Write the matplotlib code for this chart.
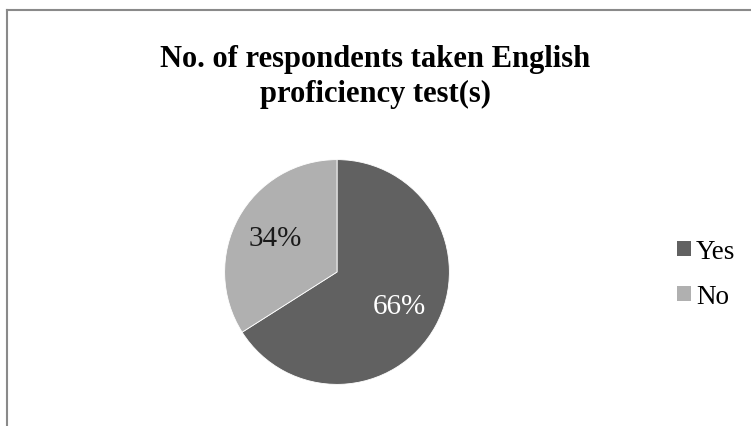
import matplotlib.pyplot as plt
from matplotlib.lines import Line2D
from matplotlib.patches import Patch

labels = ["Yes", "No"]
shares = [66, 34]
colors = ["#616161", "#b0b0b0"]
title = "No. of respondents taken English\nproficiency test(s)"

W, H = 751, 427
fig = plt.figure(figsize=(W / 100, H / 100), dpi=100)
fig.patch.set_facecolor("white")

# outer chart frame (only left and top edges visible)
fig.add_artist(Line2D([7 / W, 7 / W], [1 - 11 / H, 0], color="#8a8a8a", lw=1.5))
fig.add_artist(Line2D([7 / W, 1], [1 - 11 / H, 1 - 11 / H], color="#8a8a8a", lw=1.5))

cx, cy, r = 337, 273, 113.5
ax = fig.add_axes([(cx - r) / W, (H - cy - r) / H, 2 * r / W, 2 * r / H])
wedges, texts, autotexts = ax.pie(shares, colors=colors, startangle=90, counterclock=False,
                                  autopct="%d%%", pctdistance=0.63, radius=1,
                                  wedgeprops=dict(linewidth=0.6, edgecolor="white"),
                                  textprops=dict(family="Liberation Serif", fontsize=21))
autotexts[0].set_color("white")
autotexts[1].set_color("#1a1a1a")
ax.set_xlim(-1.01, 1.01)
ax.set_ylim(-1.01, 1.01)
ax.axis("off")

fig.text(375 / W, 1 - 77 / H, title, ha="center", va="center", family="Liberation Serif",
         fontsize=22, fontweight="bold", linespacing=1.25)

handles = [Patch(facecolor=c, edgecolor="none") for c in colors]
fig.legend(handles, labels, loc="center left", bbox_to_anchor=(677 / W, 1 - 275 / H),
           frameon=False, borderpad=0, borderaxespad=0,
           prop=dict(family="Liberation Serif", size=19.5),
           handlelength=0.5, handleheight=0.5, handletextpad=0.2, labelspacing=0.75)

fig.savefig("out.png", dpi=100)
